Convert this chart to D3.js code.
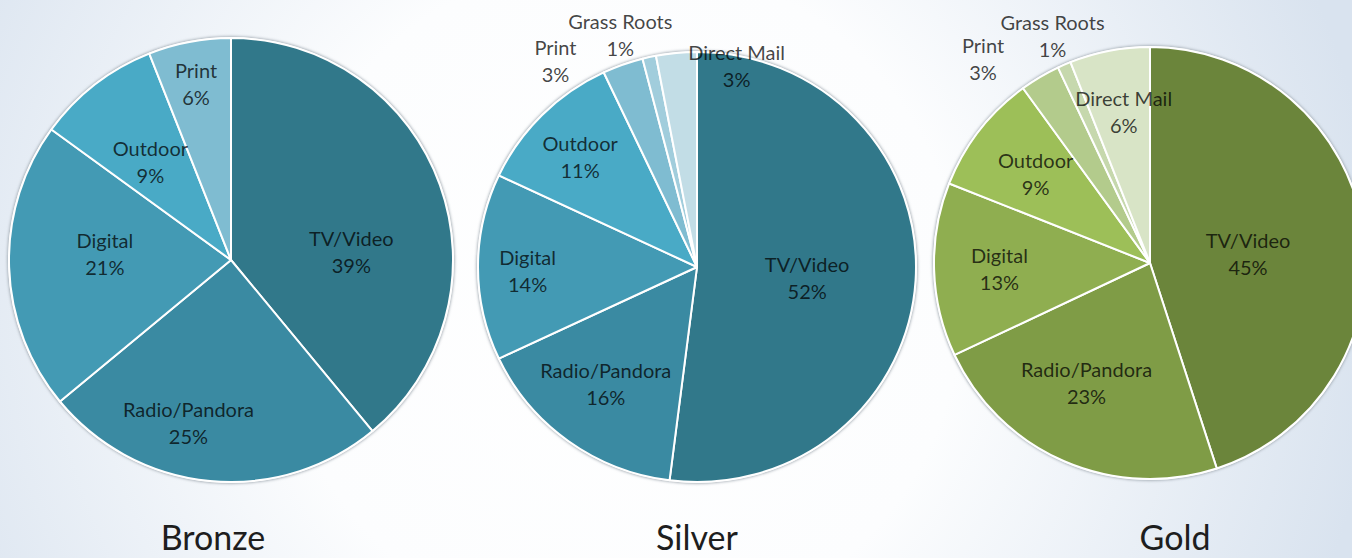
<!DOCTYPE html>
<html>
<head>
<meta charset="utf-8">
<script src="https://cdn.jsdelivr.net/npm/d3@7"></script>
<style>
  html, body { margin: 0; padding: 0; overflow: hidden; }
  body { width: 1352px; height: 558px; }
  text { font-family: Lato, "Open Sans", sans-serif; }
</style>
</head>
<body>
<script>
/**
 * DATA
 * */
const tiers = ["Bronze", "Silver", "Gold"];
const categories = ["TV/Video", "Radio/Pandora", "Digital", "Outdoor", "Print", "Grass Roots", "Direct Mail"];
const bronzeShare = [39, 25, 21, 9, 6, 0, 0];
const silverShare = [52, 16, 14, 11, 3, 1, 3];
const goldShare = [45, 23, 13, 9, 3, 1, 6];

/**
 * CONSTANTS AND GLOBALS
 * */
const width = 1352, height = 558;
const lineGap = 27;

const blueShades = ["#31788a", "#3a8aa2", "#439ab4", "#49aac6", "#7fbcd1", "#a1cddc", "#c2dde6"];
const greenShades = ["#6b853b", "#7f9c46", "#8fae50", "#9dbf58", "#b3cb8c", "#c6d8ad", "#d8e4c6"];

// where each pie sits on the slide
const layout = [
  { cx: 231, cy: 260, rx: 222, ry: 222, titleX: 213, colors: blueShades, values: bronzeShare },
  { cx: 697, cy: 267, rx: 219, ry: 215, titleX: 697, colors: blueShades, values: silverShare },
  { cx: 1150, cy: 263, rx: 216, ry: 216, titleX: 1175, colors: greenShades, values: goldShare }
];

// label nudges from the 60% centroid, roughly what excel's "best fit" did
const nudges = [
  { "TV/Video": [-5, 37], "Radio/Pandora": [-30, 30], "Digital": [7, -11], "Outdoor": [1, 7], "Print": [-10, -46] },
  { "TV/Video": [-21, 2], "Radio/Pandora": [-14, 10], "Digital": [-38, 3], "Outdoor": [-24, -18],
    "Print": [-97, -83], "Grass Roots": [-48, -104], "Direct Mail": [52, -71] },
  { "TV/Video": [-30, 11], "Radio/Pandora": [-12, 1], "Digital": [-21, 1], "Outdoor": [-12, -10],
    "Print": [-101, -93], "Grass Roots": [-46, -109], "Direct Mail": [-2, -24] }
];

const svg = d3.select("body")
  .append("svg")
  .attr("width", width)
  .attr("height", height);

const defs = svg.append("defs");

const bg = defs.append("radialGradient")
  .attr("id", "bg")
  .attr("gradientUnits", "userSpaceOnUse")
  .attr("cx", 620).attr("cy", 300).attr("r", 760);
bg.append("stop").attr("offset", "0%").attr("stop-color", "#ffffff");
bg.append("stop").attr("offset", "45%").attr("stop-color", "#fcfdfe");
bg.append("stop").attr("offset", "100%").attr("stop-color", "#d9e3ef");

const shadow = defs.append("filter")
  .attr("id", "shadow")
  .attr("x", "-10%").attr("y", "-10%")
  .attr("width", "120%").attr("height", "120%");
shadow.append("feGaussianBlur").attr("stdDeviation", 1.5);

svg.append("rect")
  .attr("width", width)
  .attr("height", height)
  .attr("fill", "url(#bg)");

const pie = d3.pie().sort(null).value(d => d.value).startAngle(0).endAngle(2 * Math.PI);

/**
 * DRAW
 * */
layout.forEach((p, i) => {
  const rows = categories
    .map((c, j) => ({ category: c, value: p.values[j], color: p.colors[j] }))
    .filter(d => d.value > 0);
  const arcs = pie(rows);

  const arc = d3.arc().innerRadius(0).outerRadius(p.rx);
  const labelArc = d3.arc().innerRadius(p.rx * 0.6).outerRadius(p.rx * 0.6);

  const g = svg.append("g")
    .attr("transform", `translate(${p.cx},${p.cy}) scale(1,${p.ry / p.rx})`);

  // soft rim behind the pie
  g.append("circle")
    .attr("r", p.rx + 1.5)
    .attr("fill", "#9aa3ab")
    .attr("filter", "url(#shadow)");
  g.append("circle")
    .attr("r", p.rx + 1)
    .attr("fill", "#f4f6f7");

  g.selectAll("path.slice")
    .data(arcs)
    .join("path")
    .attr("class", "slice")
    .attr("d", arc)
    .attr("fill", d => d.data.color)
    .attr("stroke", "#ffffff")
    .attr("stroke-width", 2)
    .attr("stroke-linejoin", "round");

  const lg = svg.append("g")
    .attr("transform", `translate(${p.cx},${p.cy})`);

  const labels = lg.selectAll("g.label")
    .data(arcs)
    .join("g")
    .attr("class", "label")
    .attr("transform", d => {
      const c = labelArc.centroid(d);
      const n = nudges[i][d.data.category] || [0, 0];
      return `translate(${c[0] + n[0]},${c[1] + n[1]})`;
    });

  labels.append("text")
    .attr("text-anchor", "middle")
    .attr("dominant-baseline", "central")
    .attr("y", -lineGap / 2)
    .attr("font-size", 20)
    .attr("fill", "#000")
    .attr("fill-opacity", 0.74)
    .text(d => d.data.category);

  labels.append("text")
    .attr("text-anchor", "middle")
    .attr("dominant-baseline", "central")
    .attr("y", lineGap / 2)
    .attr("font-size", 20)
    .attr("fill", "#000")
    .attr("fill-opacity", 0.74)
    .text(d => d3.format(".0%")(d.data.value / 100));

  svg.append("text")
    .attr("x", p.titleX)
    .attr("y", 550)
    .attr("text-anchor", "middle")
    .attr("font-size", 34)
    .attr("fill", "#1e1e1e")
    .text(tiers[i]);
});
</script>
</body>
</html>
